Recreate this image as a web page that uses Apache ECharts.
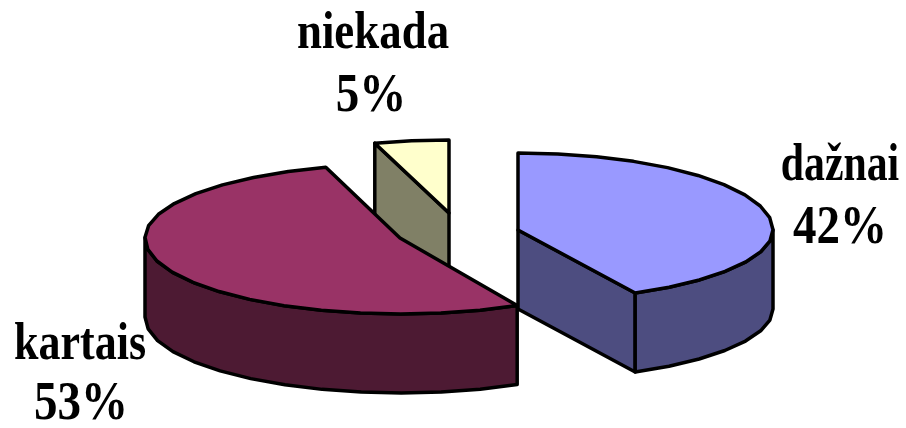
<!DOCTYPE html>
<html>
<head>
<meta charset="utf-8">
<style>html,body{margin:0;padding:0;background:#fff}#c{width:906px;height:428px}</style>
<script src="https://cdn.jsdelivr.net/npm/echarts@6/dist/echarts.min.js"></script>
</head>
<body>
<div id="c"></div>
<script>
const categories = ['dažnai', 'kartais', 'niekada'];
const shares = [42.4, 52.9, 4.7];

const topColors = ['#9999ff', '#993366', '#ffffcc'];
const wallColors = ['#4d4d80', '#4d1a33', '#808066'];

// Exploded slice layout: apex position and elliptical radii of each slice
const apexX = [518, 400, 449];
const apexY = [230, 238, 213];
const radiusX = [255, 255, 255];
const radiusYTop = [77, 74, 73];
const radiusYBottom = [71, 76, 73];
const depth = [79, 79, 80];
const stacking = [3, 2, 1];
const nameX = [840, 80, 373];
const nameY = [166, 345, 34];
const pctX = [840, 81, 371];
const pctY = [229, 405, 97];
const nameWidthScale = [0.95, 1, 1.02];

const total = shares.reduce((a, b) => a + b, 0);
const STEP = 9;

function rimPoint(i, deg) {
  const r = deg * Math.PI / 180;
  const c = Math.cos(r);
  return [apexX[i] + radiusX[i] * Math.sin(r),
          apexY[i] - (c >= 0 ? radiusYTop[i] : radiusYBottom[i]) * c];
}
function arc(i, from, to) {
  const pts = [];
  const n = Math.max(1, Math.round((to - from) / STEP));
  for (let k = 0; k <= n; k++) pts.push(rimPoint(i, from + (to - from) * k / n));
  return pts;
}
const down = (p, d) => [p[0], p[1] + d];

const strokeStyle = { stroke: '#000', lineWidth: 3.5, lineJoin: 'round' };

function renderItem(params, api) {
  const i = params.dataIndex;
  const value = api.value(0);
  let before = 0;
  for (let k = 0; k < i; k++) before += shares[k];
  const a0 = before / total * 360;
  const a1 = (before + value) / total * 360;
  const z = stacking[i] * 10;
  const apex = [apexX[i], apexY[i]];
  const d = depth[i];
  const children = [];
  const poly = (points, fill, z2) => children.push({
    type: 'polygon', z2,
    shape: { points },
    style: Object.assign({ fill }, strokeStyle)
  });

  // Cut walls, visible only when they face the viewer
  if (a0 > 180 && a0 < 360) {
    const p = rimPoint(i, a0);
    poly([apex, p, down(p, d), down(apex, d)], wallColors[i], z);
  }
  if (a1 > 0 && a1 < 180) {
    const p = rimPoint(i, a1);
    poly([apex, p, down(p, d), down(apex, d)], wallColors[i], z);
  }
  // Outer curved wall: the front half of the rim
  const f0 = Math.max(a0, 90), f1 = Math.min(a1, 270);
  if (f1 > f0) {
    const top = arc(i, f0, f1);
    poly(top.concat(top.slice().reverse().map(p => down(p, d))), wallColors[i], z + 1);
  }
  // Top face
  poly([apex].concat(arc(i, a0, a1)), topColors[i], z + 2);

  // Labels
  children.push({
    type: 'text', z2: 100,
    x: nameX[i], y: nameY[i],
    scaleX: nameWidthScale[i], scaleY: 1.2,
    style: {
      text: categories[i],
      font: 'bold 44px "Liberation Serif"',
      fill: '#000', align: 'center', verticalAlign: 'middle'
    }
  });
  children.push({
    type: 'text', z2: 100,
    x: pctX[i], y: pctY[i],
    scaleY: 1.15,
    style: {
      text: Math.round(value) + '%',
      font: 'bold 47px "Liberation Serif"',
      fill: '#000', align: 'center', verticalAlign: 'middle'
    }
  });
  return { type: 'group', children };
}

const chart = echarts.init(document.getElementById('c'), null, { renderer: 'canvas' });
chart.setOption({
  animation: false,
  backgroundColor: '#ffffff',
  series: [{
    type: 'custom',
    coordinateSystem: 'none',
    renderItem,
    data: categories.map((name, i) => ({ name, value: [shares[i]] }))
  }]
});
</script>
</body>
</html>
